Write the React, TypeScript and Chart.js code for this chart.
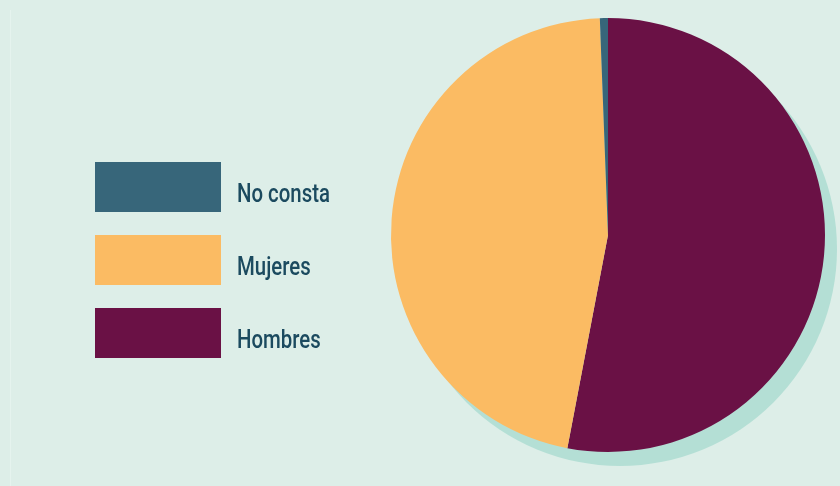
import React, { useEffect, useRef } from "react";
import { Chart, registerables } from "chart.js";

Chart.register(...registerables);

const categories = ["Hombres", "Mujeres", "No consta"];
const values = [53.0, 46.4, 0.6];
const colors = ["#6a1145", "#fbbb63", "#37667a"];
const legendOrder = [2, 1, 0];

const shadowPlugin = {
  id: "pieShadow",
  beforeDatasetsDraw(chart: any) {
    const meta = chart.getDatasetMeta(0);
    const arc = meta.data[0];
    if (!arc) return;
    const { x, y, outerRadius } = arc.getProps(["x", "y", "outerRadius"], true);
    const ctx = chart.ctx;
    ctx.save();
    ctx.fillStyle = "#b4dfd5";
    ctx.beginPath();
    ctx.arc(x + 12, y + 14, outerRadius, 0, Math.PI * 2);
    ctx.fill();
    ctx.restore();
  },
};

export default function App() {
  const ref = useRef<HTMLCanvasElement>(null);
  useEffect(() => {
    document.body.style.margin = "0";
    const chart = new Chart(ref.current!, {
      type: "pie",
      data: {
        labels: categories,
        datasets: [
          {
            data: values,
            backgroundColor: colors,
            borderWidth: 0,
          },
        ],
      },
      options: {
        responsive: false,
        animation: false,
        layout: { padding: { left: 391, top: 18, right: 15, bottom: 34 } },
        plugins: { legend: { display: false }, tooltip: { enabled: false } },
      },
      plugins: [shadowPlugin],
    });
    return () => chart.destroy();
  }, []);

  const boxTops = [162, 235, 308];
  return (
    <div
      style={{
        position: "fixed",
        left: 0,
        top: 0,
        width: 840,
        height: 486,
        background: "#ddeee8",
        overflow: "hidden",
      }}
    >
      <div
        style={{
          position: "absolute",
          left: 10,
          top: 10,
          width: 1,
          height: 476,
          background: "#e5f3ee",
        }}
      />
      <canvas ref={ref} width={840} height={486} style={{ position: "absolute", left: 0, top: 0 }} />
      {legendOrder.map((idx, i) => (
        <React.Fragment key={categories[idx]}>
          <div
            style={{
              position: "absolute",
              left: 95,
              top: boxTops[i],
              width: 126,
              height: 50,
              background: colors[idx],
            }}
          />
          <div
            style={{
              position: "absolute",
              left: 237,
              top: boxTops[i] + 16,
              fontFamily: "Roboto, sans-serif",
              fontSize: 25.5,
              fontWeight: 500,
              lineHeight: "30px",
              color: "#1b4a5f",
              whiteSpace: "nowrap",
              transform: "scaleX(0.8)",
              transformOrigin: "left center",
            }}
          >
            {categories[idx]}
          </div>
        </React.Fragment>
      ))}
    </div>
  );
}
